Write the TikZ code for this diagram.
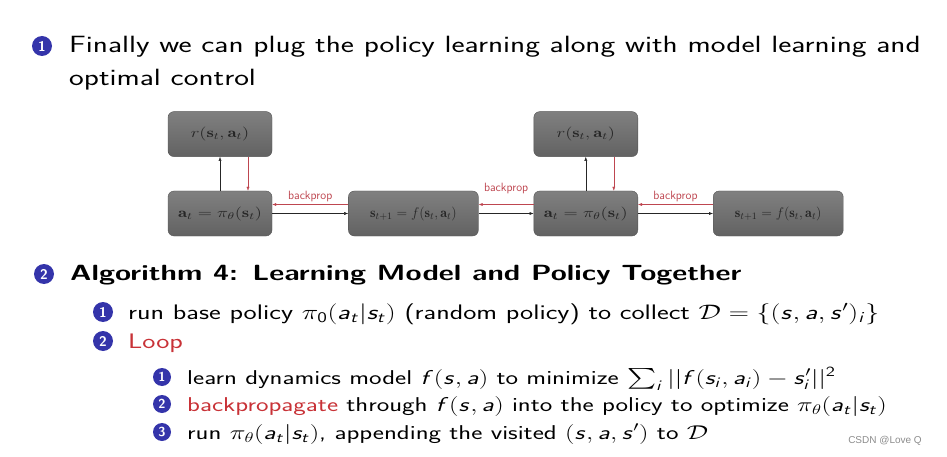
\RequirePackage{fix-cm}
\documentclass[tikz,border=0pt]{standalone}
\usepackage{amsmath}
\usepackage{graphicx}
\usepackage{fontspec}
\newfontfamily\wmfont{Liberation Sans}
\usetikzlibrary{positioning,arrows.meta}

\DeclareMathAlphabet{\mathsfit}{OT1}{cmss}{m}{sl}
\newcommand{\smi}[1]{\mathsfit{#1}}
% the slide is shown stretched sideways
\newcommand{\hstretch}[1]{\scalebox{1.33}[1]{#1}}

\definecolor{structblue}{RGB}{52,52,170}
\definecolor{alertred}{RGB}{200,50,55}
\definecolor{backred}{RGB}{190,70,80}
\definecolor{boxtop}{RGB}{128,128,128}
\definecolor{boxbot}{RGB}{98,98,98}
\definecolor{boxline}{RGB}{85,85,85}
\definecolor{boxtext}{RGB}{38,38,38}

\begin{document}
\begin{tikzpicture}[
    x=1pt,y=-1pt,
    box/.style={draw=boxline,rounded corners=6pt,top color=boxtop,bottom color=boxbot,
                text=boxtext,font=\fontsize{14}{16}\selectfont,
                minimum width=104pt,minimum height=45pt,inner sep=2pt},
    wide/.style={box,minimum width=130pt},
    flow/.style={-{Latex[length=4pt,width=3pt]},thin,black!85},
    grad/.style={-{Latex[length=4pt,width=3pt]},thin,backred},
    lbl/.style={text=backred,font=\sffamily\fontsize{12}{14}\selectfont,inner sep=1pt},
    ball/.style={circle,fill=structblue,text=white,inner sep=0pt,minimum size=20pt,
                 font=\sffamily\bfseries\fontsize{14}{15}\selectfont},
    smallball/.style={ball,minimum size=18pt,font=\sffamily\bfseries\fontsize{13}{14}\selectfont},
    lvla/.style={anchor=base west,inner sep=0pt,font=\sffamily\fontsize{23.5}{27}\selectfont},
    lvlb/.style={anchor=base west,inner sep=0pt,font=\sffamily\fontsize{21}{25}\selectfont},
    lvlc/.style={anchor=base west,inner sep=0pt,font=\sffamily\fontsize{20}{24}\selectfont}
]
  \useasboundingbox (0,0) rectangle (947,457);

  % intro
  \node[ball] (b1) at (42,46) {1};
  \node[lvla] (intro) at (69,53) {\hstretch{Finally we can plug the policy learning along with model learning and}};
  \node[lvla] (introb) at (69,86) {\hstretch{optimal control}};

  % diagram
  \node[box] (act1) at (220,213.5) {\hstretch{$\mathbf{a}_t=\pi_\theta(\mathbf{s}_t)$}};
  \node[box,above=34pt of act1] (rew1) {\hstretch{$r(\mathbf{s}_t,\mathbf{a}_t)$}};
  \node[wide,right=76pt of act1] (dyn1) {$\mathbf{s}_{t+1}=f(\mathbf{s}_t,\mathbf{a}_t)$};
  \node[box,right=55pt of dyn1] (act2) {\hstretch{$\mathbf{a}_t=\pi_\theta(\mathbf{s}_t)$}};
  \node[box,above=34pt of act2] (rew2) {\hstretch{$r(\mathbf{s}_t,\mathbf{a}_t)$}};
  \node[wide,right=75pt of act2] (dyn2) {$\mathbf{s}_{t+1}=f(\mathbf{s}_t,\mathbf{a}_t)$};

  \draw[flow] (act1) -- (rew1);
  \draw[grad] ([xshift=28pt]rew1.south) -- ([xshift=28pt]act1.north);
  \draw[flow] (act2) -- (rew2);
  \draw[grad] ([xshift=28pt]rew2.south) -- ([xshift=28pt]act2.north);

  \draw[flow] (act1) -- (dyn1);
  \draw[flow] (dyn1) -- (act2);
  \draw[flow] (act2) -- (dyn2);
  \draw[grad] ([yshift=9pt]dyn1.west) -- node[lbl,above=1pt] (bp1) {backprop} ([yshift=9pt]act1.east);
  \draw[grad] ([yshift=9pt]act2.west) -- node[lbl,above=9pt] (bp2) {backprop} ([yshift=9pt]dyn1.east);
  \draw[grad] ([yshift=9pt]dyn2.west) -- node[lbl,above=1pt] (bp3) {backprop} ([yshift=9pt]act2.east);

  % algorithm
  \node[ball] (b2) at (44,274) {2};
  \node[lvla,font=\sffamily\bfseries\fontsize{22}{26}\selectfont] (algo) at (70,280)
    {\hstretch{Algorithm 4: Learning Model and Policy Together}};

  \node[ball] (b21) at (103,312) {1};
  \node[lvlb] (collect) at (128,319) {\hstretch{run base policy $\pi_{\mathsf{0}}(\smi{a}_{\smi{t}}|\smi{s}_{\smi{t}})$
    (random policy) to collect $\mathcal{D}=\{(\smi{s},\smi{a},\smi{s}')_{\smi{i}}\}$}};
  \node[ball] (b22) at (103,341) {2};
  \node[lvlb,text=alertred] (loop) at (128,348) {\hstretch{Loop}};

  \node[smallball] (b221) at (162,377) {1};
  \node[lvlc] (learn) at (187,384) {\hstretch{learn dynamics model $\smi{f}(\smi{s},\smi{a})$ to minimize
    $\sum_{\smi{i}}||\smi{f}(\smi{s}_{\smi{i}},\smi{a}_{\smi{i}})-\smi{s}'_{\smi{i}}||^{\mathsf{2}}$}};
  \node[smallball] (b222) at (162,404) {2};
  \node[lvlc] (backp) at (187,411) {\hstretch{\textcolor{alertred}{backpropagate} through
    $\smi{f}(\smi{s},\smi{a})$ into the policy to optimize $\pi_\theta(\smi{a}_{\smi{t}}|\smi{s}_{\smi{t}})$}};
  \node[smallball] (b223) at (162,432) {3};
  \node[lvlc] (visit) at (187,439) {\hstretch{run $\pi_\theta(\smi{a}_{\smi{t}}|\smi{s}_{\smi{t}})$,
    appending the visited $(\smi{s},\smi{a},\smi{s}')$ to $\mathcal{D}$}};

  \node[text=black!45,font=\wmfont\fontsize{10}{12}\selectfont] (mark) at (885,441) {CSDN @Love Q};
\end{tikzpicture}
\end{document}
